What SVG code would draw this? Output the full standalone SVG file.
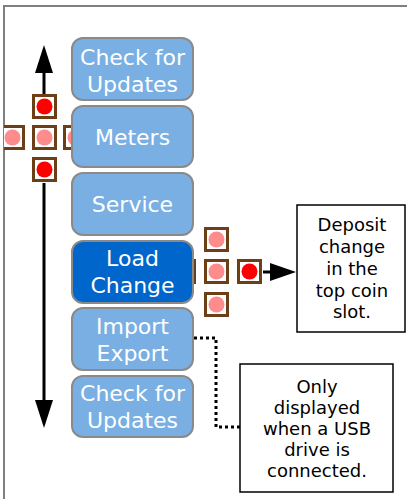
<svg xmlns="http://www.w3.org/2000/svg" width="407" height="499" viewBox="0 0 407 499">
<style>
.btn{fill:#79afe2;stroke:#8a8a8a;stroke-width:2}
.sel{fill:#0066cc;stroke:#8a8a8a;stroke-width:2}
.bt{font-family:"DejaVu Sans",sans-serif;font-size:22px;fill:#ffffff;text-anchor:middle}
.nt{font-family:"DejaVu Sans",sans-serif;font-size:18px;fill:#000000;text-anchor:middle}
.note{fill:#ffffff;stroke:#000000;stroke-width:1.5}
.sq{fill:#ffffff;stroke:#6e3f17;stroke-width:3}
.on{fill:#ff0000}
.off{fill:#ff8c8c}
.ln{stroke:#000000;stroke-width:3;fill:none}
.dot{stroke:#000000;stroke-width:3;fill:none;stroke-dasharray:3 3}
</style>
<defs>
<clipPath id="frameclip"><rect x="4" y="6" width="403" height="493"/></clipPath>
</defs>
<rect x="0" y="0" width="407" height="499" fill="#ffffff"/>
<g id="frame" stroke="#7f7f7f" stroke-width="2" fill="none">
<path d="M4 499 V6 H407"/>
</g>
<g id="connectors">
<line class="ln" x1="44" y1="72" x2="44" y2="94"/>
<polygon points="44,45 35,73 53,73" fill="#000"/>
<line class="ln" x1="44" y1="183" x2="44" y2="402"/>
<polygon points="44,428 35,400 53,400" fill="#000"/>
<line class="ln" x1="263" y1="272" x2="272" y2="272"/>
<polygon points="296,272 270,263 270,281" fill="#000"/>
<path class="dot" d="M194 338 H216 V427 H240"/>
</g>
<g id="left-cross" clip-path="url(#frameclip)">
<rect class="sq" x="33.5" y="95.5" width="22" height="22"/><circle class="on" cx="44.5" cy="106.5" r="8"/>
<rect class="sq" x="1.5" y="126.5" width="22" height="22"/><circle class="off" cx="12.5" cy="137.5" r="8"/>
<rect class="sq" x="33.5" y="126.5" width="22" height="22"/><circle class="off" cx="44.5" cy="137.5" r="8"/>
<rect class="sq" x="64.5" y="126.5" width="22" height="22"/><circle class="off" cx="75.5" cy="137.5" r="8"/>
<rect class="sq" x="33.5" y="158.5" width="22" height="22"/><circle class="on" cx="44.5" cy="169.5" r="8"/>
</g>
<g id="right-cross">
<rect class="sq" x="205.5" y="228.5" width="22" height="22"/><circle class="off" cx="216.5" cy="239.5" r="8"/>
<rect class="sq" x="172.5" y="260.5" width="22" height="22"/><circle class="off" cx="183.5" cy="271.5" r="8"/>
<rect class="sq" x="205.5" y="260.5" width="22" height="22"/><circle class="off" cx="216.5" cy="271.5" r="8"/>
<rect class="sq" x="238.5" y="260.5" width="22" height="22"/><circle class="on" cx="249.5" cy="271.5" r="8"/>
<rect class="sq" x="205.5" y="293.5" width="22" height="22"/><circle class="off" cx="216.5" cy="304.5" r="8"/>
</g>
<g id="check-updates-top">
<rect class="btn" x="72" y="38" width="121" height="62" rx="11"/>
<text class="bt" x="132.5" y="65">Check for</text>
<text class="bt" x="132.5" y="92">Updates</text>
</g>
<g id="meters">
<rect class="btn" x="72" y="106" width="121" height="61" rx="11"/>
<text class="bt" x="132.5" y="145">Meters</text>
</g>
<g id="service">
<rect class="btn" x="72" y="173" width="121" height="62" rx="11"/>
<text class="bt" x="132.5" y="212">Service</text>
</g>
<g id="load-change">
<rect class="sel" x="72" y="241" width="121" height="62" rx="11"/>
<text class="bt" x="132.5" y="266">Load</text>
<text class="bt" x="132.5" y="293">Change</text>
</g>
<g id="import-export">
<rect class="btn" x="72" y="308" width="121" height="62" rx="11"/>
<text class="bt" x="132.5" y="334">Import</text>
<text class="bt" x="132.5" y="361">Export</text>
</g>
<g id="check-updates-bottom">
<rect class="btn" x="72" y="376" width="121" height="61" rx="11"/>
<text class="bt" x="132.5" y="401">Check for</text>
<text class="bt" x="132.5" y="428">Updates</text>
</g>
<g id="deposit-note">
<rect class="note" x="297" y="205" width="108" height="127"/>
<text class="nt" x="352" y="231">Deposit</text>
<text class="nt" x="352" y="253">change</text>
<text class="nt" x="352" y="275">in the</text>
<text class="nt" x="352" y="297">top coin</text>
<text class="nt" x="352" y="318">slot.</text>
</g>
<g id="usb-note">
<rect class="note" x="240" y="364" width="153" height="128"/>
<text class="nt" x="317" y="393">Only</text>
<text class="nt" x="317" y="414">displayed</text>
<text class="nt" x="317" y="435">when a USB</text>
<text class="nt" x="317" y="456">drive is</text>
<text class="nt" x="317" y="477">connected.</text>
</g>
</svg>
